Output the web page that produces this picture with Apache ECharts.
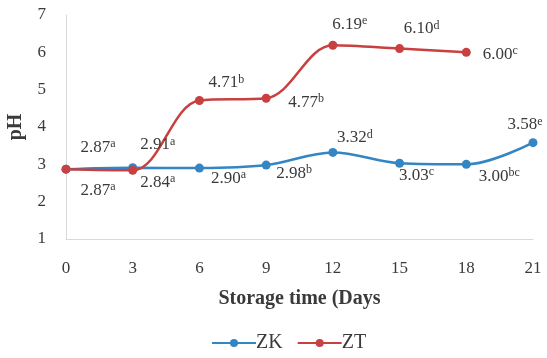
<!DOCTYPE html>
<html>
<head>
<meta charset="utf-8">
<script src="https://cdn.jsdelivr.net/npm/echarts@6/dist/echarts.min.js"></script>
<style>
  html, body {margin: 0; padding: 0; background: #fff;}
  #chart {width: 547px; height: 358px;}
</style>
</head>
<body>
<div id="chart"></div>
<script>
// storage days and pH readings
let days = ['0', '3', '6', '9', '12', '15', '18', '21'];
let zkValues = [2.87, 2.91, 2.90, 2.98, 3.32, 3.03, 3.00, 3.58];
let ztValues = [2.87, 2.84, 4.71, 4.77, 6.19, 6.10, 6.00, null];
let zkLetters = ['a', 'a', 'a', 'b', 'd', 'c', 'bc', 'e'];
let ztLetters = ['a', 'a', 'b', 'b', 'e', 'd', 'c', ''];

// where each value label sits relative to its point
let zkOffsets = [[32, -22], [25, -23], [29, 10], [28, 8], [22, -15], [17, 12], [33, 12], [-8, -18]];
let ztOffsets = [[32, 21], [25, 12], [27, -18], [40, 4], [17, -21], [22, -20], [34, 2], [0, 0]];

let font = 'Liberation Serif';
let txt = '#3a3a3a';
let rich = {
  v: {fontFamily: font, fontSize: 17, color: txt, lineHeight: 18},
  s: {fontFamily: font, fontSize: 12, color: txt, verticalAlign: 'top', lineHeight: 18, padding: [0, 0, 7, 0]}
};

function makeData(values, letters, offsets) {
  return values.map((v, i) => {
    if (v === null) return null;
    return {
      value: v,
      label: {
        show: true,
        position: 'inside',
        offset: offsets[i],
        formatter: '{v|' + v.toFixed(2) + '}{s|' + letters[i] + '}',
        rich: rich
      }
    };
  });
}

let chart = echarts.init(document.getElementById('chart'));
chart.setOption({
  animation: false,
  grid: {left: 66, right: 14, top: 15, bottom: 119, containLabel: false, outerBoundsMode: 'none'},
  legend: {
    bottom: 0,
    left: 206,
    itemWidth: 44,
    itemHeight: 10,
    itemGap: 14,
    textStyle: {fontFamily: font, fontSize: 20, color: txt, padding: [0, 0, 0, -5]},
    data: ['ZK', 'ZT']
  },
  xAxis: {
    type: 'category',
    boundaryGap: false,
    data: days,
    name: 'Storage time (Days',
    nameLocation: 'middle',
    nameGap: 50,
    nameTextStyle: {fontFamily: font, fontSize: 20, fontWeight: 'bold', color: txt},
    axisLine: {lineStyle: {color: '#d9d9d9', width: 1}},
    axisTick: {show: false},
    axisLabel: {fontFamily: font, fontSize: 17, color: txt, margin: 21}
  },
  yAxis: {
    type: 'value',
    min: 1,
    max: 7,
    interval: 1,
    name: 'pH',
    nameLocation: 'middle',
    nameGap: 40,
    nameTextStyle: {fontFamily: font, fontSize: 20, fontWeight: 'bold', color: txt},
    axisLine: {show: true, lineStyle: {color: '#d9d9d9', width: 1}},
    axisTick: {show: false},
    splitLine: {show: false},
    axisLabel: {fontFamily: font, fontSize: 17, color: txt, margin: 20}
  },
  series: [
    {
      name: 'ZK',
      type: 'line',
      smooth: 0.35,
      symbol: 'circle',
      symbolSize: 9,
      color: '#3485c4',
      lineStyle: {width: 2.5},
      data: makeData(zkValues, zkLetters, zkOffsets)
    },
    {
      name: 'ZT',
      type: 'line',
      smooth: 0.35,
      symbol: 'circle',
      symbolSize: 9,
      color: '#c8403f',
      lineStyle: {width: 2.5},
      data: makeData(ztValues, ztLetters, ztOffsets)
    }
  ]
});
</script>
</body>
</html>
